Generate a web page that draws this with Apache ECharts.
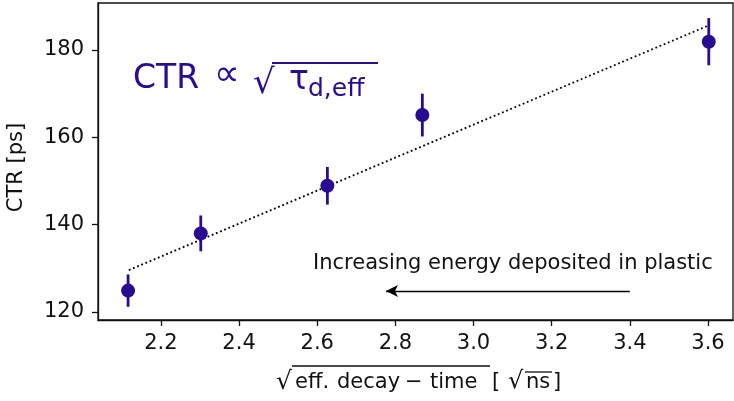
<!DOCTYPE html>
<html>
<head>
<meta charset="utf-8">
<script src="https://cdn.jsdelivr.net/npm/echarts@6/dist/echarts.min.js"></script>
<style>
html, body { margin: 0; padding: 0; background: #fff; }
#chart { width: 734px; height: 401px; }
</style>
</head>
<body>
<div id="chart"></div>
<script>
// measured points: sqrt(eff. decay time) vs CTR
const sqrtTau = [2.116, 2.302, 2.626, 2.869, 3.602];
const ctr = [124.9, 138.0, 148.9, 165.1, 181.9];
const ctrErr = [3.7, 4.1, 4.3, 4.9, 5.4];
// fitted line ends
const fitX = [2.118, 3.604];
const fitY = [129.6, 185.7];
// arrow (from, to) in data units
const arrowFrom = [3.4, 124.8];
const arrowTo = [2.776, 124.8];
const xTicks = [2.2, 2.4, 2.6, 2.8, 3.0, 3.2, 3.4, 3.6];
const yTicks = [120, 140, 160, 180];

const purple = '#2a0c93';
const ink = '#111';
const font = 'DejaVu Sans';

const chart = echarts.init(document.getElementById('chart'));

const points = sqrtTau.map((x, i) => [x, ctr[i], ctrErr[i]]);
const fitLine = fitX.map((x, i) => [x, fitY[i]]);

// small helper for the hand placed texts
function txt(x, y, text, size, color) {
  return {
    type: 'text', x: x, y: y,
    style: { text: text, fill: color || ink, font: size + 'px "DejaVu Sans"', verticalAlign: 'middle' }
  };
}
function hline(x1, x2, y, color, w) {
  return { type: 'line', shape: { x1: x1, y1: y, x2: x2, y2: y }, style: { stroke: color || ink, lineWidth: w || 1.3 } };
}

chart.setOption({
  animation: false,
  grid: {
    left: 98, right: 1, top: 3, bottom: 81,
    outerBoundsMode: 'none',
    show: true, borderColor: ink, borderWidth: 1.3
  },
  xAxis: {
    type: 'value',
    min: 2.039, max: 3.664,
    splitLine: { show: false },
    axisLine: { show: true, lineStyle: { color: ink, width: 1.3 } },
    axisTick: { show: true, length: 6, customValues: xTicks, lineStyle: { color: ink, width: 1.3 } },
    axisLabel: {
      customValues: xTicks, margin: 13,
      color: ink, fontFamily: font, fontSize: 21,
      formatter: v => v.toFixed(1)
    }
  },
  yAxis: {
    type: 'value',
    min: 118.17, max: 190.76,
    name: 'CTR [ps]', nameLocation: 'middle', nameGap: 71,
    nameTextStyle: { color: ink, fontFamily: font, fontSize: 21, padding: [0, 12, 0, 0] },
    splitLine: { show: false },
    axisLine: { show: true, lineStyle: { color: ink, width: 1.3 } },
    axisTick: { show: true, length: 6, customValues: yTicks, lineStyle: { color: ink, width: 1.3 } },
    axisLabel: {
      customValues: yTicks, margin: 14,
      color: ink, fontFamily: font, fontSize: 21
    }
  },
  series: [
    {
      type: 'line',
      data: fitLine,
      symbol: 'none',
      lineStyle: { color: '#000', width: 1.8, type: [1.8, 2.7] },
      markLine: {
        silent: true,
        symbol: ['none', 'arrow'],
        symbolSize: [9, 12],
        label: { show: false },
        lineStyle: { color: '#000', width: 1.3, type: 'solid' },
        data: [[{ coord: arrowFrom }, { coord: arrowTo }]]
      }
    },
    {
      type: 'custom',
      data: points,
      renderItem: (params, api) => {
        const x = api.value(0), y = api.value(1), e = api.value(2);
        const top = api.coord([x, y + e]);
        const bot = api.coord([x, y - e]);
        return {
          type: 'line',
          shape: { x1: top[0], y1: top[1], x2: bot[0], y2: bot[1] },
          style: { stroke: purple, lineWidth: 2.8 }
        };
      },
      z: 3
    },
    {
      type: 'scatter',
      data: points,
      symbolSize: 14,
      itemStyle: { color: purple, opacity: 1 },
      z: 4
    }
  ],
  graphic: [
    // annotation text
    txt(313, 264, 'Increasing energy deposited in plastic', 21),
    // CTR ∝ sqrt(tau_d,eff)
    txt(133, 79, 'CTR', 33, purple),
    txt(214, 76, '∝', 36, purple),
    txt(253, 84, '√', 34, purple),
    hline(272, 378, 63, purple, 2),
    txt(289, 80, 'τ', 33, purple),
    txt(308, 89, 'd,eff', 25, purple),
    // x axis title
    txt(276, 382, '√', 25),
    txt(295, 383, 'eff.', 21),
    txt(337, 383, 'decay', 21),
    txt(405, 383, '−', 21),
    txt(430, 383, 'time', 21),
    hline(292, 490, 366),
    txt(492, 383, '[', 21),
    txt(508, 382, '√', 24),
    hline(525, 552, 372),
    txt(526, 383, 'ns', 21),
    txt(553, 383, ']', 21)
  ]
});
</script>
</body>
</html>
